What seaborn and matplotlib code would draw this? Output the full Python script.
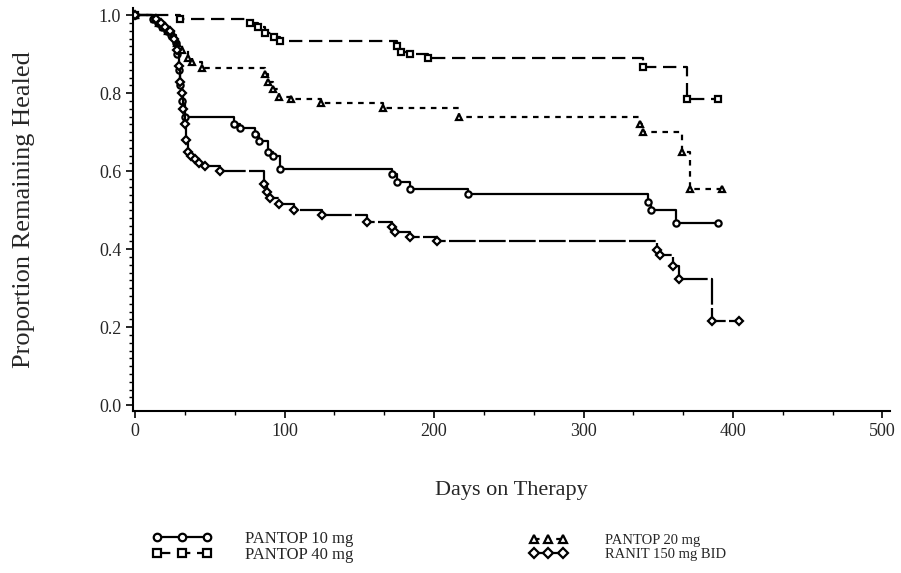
import pandas as pd
import seaborn as sns
import matplotlib.pyplot as plt
from matplotlib.ticker import MultipleLocator

# step points (days, proportion remaining healed)
p40_days = [0, 30, 77, 82, 87, 93, 97, 175, 178, 184, 196, 340, 369, 390]
p40_vals = [1.0, 0.99, 0.98, 0.97, 0.955, 0.945, 0.935, 0.92, 0.905, 0.90, 0.89, 0.868, 0.786, 0.786]

p20_days = [0, 13, 16, 19, 22, 25, 28, 31, 35, 38, 45, 87, 89, 92, 96, 104, 124, 166, 217, 338, 340, 366, 371, 393]
p20_vals = [1.0, 0.99, 0.98, 0.97, 0.96, 0.95, 0.93, 0.91, 0.89, 0.88, 0.865, 0.85, 0.83, 0.81, 0.79, 0.785,
            0.776, 0.763, 0.74, 0.72, 0.70, 0.65, 0.555, 0.555]

p10_days = [0, 12, 15, 18, 21, 24, 27, 28, 29, 30, 31, 33, 66, 70, 80, 83, 89, 92, 97, 172, 175, 184, 223,
            343, 345, 362, 390]
p10_vals = [1.0, 0.99, 0.98, 0.97, 0.96, 0.95, 0.93, 0.90, 0.86, 0.82, 0.78, 0.738, 0.72, 0.71, 0.695, 0.677,
            0.65, 0.64, 0.605, 0.593, 0.572, 0.555, 0.542, 0.52, 0.50, 0.466, 0.466]

ran_days = [0, 14, 17, 20, 23, 26, 28, 29, 30, 31, 32, 33, 34, 35, 37, 40, 43, 47, 57, 86, 88, 90, 96, 106,
            125, 155, 172, 174, 184, 202, 349, 351, 360, 364, 386, 404]
ran_vals = [1.0, 0.99, 0.98, 0.97, 0.96, 0.94, 0.91, 0.87, 0.83, 0.80, 0.76, 0.72, 0.68, 0.65, 0.64, 0.63,
            0.62, 0.613, 0.60, 0.567, 0.547, 0.53, 0.517, 0.50, 0.488, 0.47, 0.458, 0.445, 0.43, 0.42,
            0.397, 0.385, 0.356, 0.323, 0.216, 0.216]

sns.set_style("ticks")
plt.rcParams['font.family'] = ['Liberation Serif', 'DejaVu Serif']

fig = plt.figure(figsize=(9.01, 5.73), dpi=100)
ax = fig.add_axes([0.1476, 0.2827, 0.840, 0.703])

common = dict(color="black", drawstyle="steps-post", linewidth=1.6,
              markersize=4.5, markerfacecolor="white", markeredgecolor="black", markeredgewidth=1.6, ax=ax)

# draw each group
l10 = sns.lineplot(x=p10_days, y=p10_vals, marker="o", linestyle="-", **common).lines[-1]
l40 = sns.lineplot(x=p40_days, y=p40_vals, marker="s", dashes=(6, 3), **common).lines[-1]
l20 = sns.lineplot(x=p20_days, y=p20_vals, marker="^", dashes=(2.5, 2.5), **common).lines[-1]
lran = sns.lineplot(x=ran_days, y=ran_vals, marker="D", dashes=(12, 1.5), **common).lines[-1]

ax.set_xlim(-1.5, 505)
ax.set_ylim(-0.015, 1.018)
ax.xaxis.set_major_locator(MultipleLocator(100))
ax.xaxis.set_minor_locator(MultipleLocator(100 / 3))
ax.yaxis.set_major_locator(MultipleLocator(0.2))
ax.yaxis.set_minor_locator(MultipleLocator(0.02))
ax.yaxis.set_major_formatter(plt.FuncFormatter(lambda v, p: f"{v:.1f}"))
ax.tick_params(which="major", length=5, width=1.2, labelsize=13, color="black")
ax.tick_params(which="minor", length=3, width=1.0, color="black")
for s in ["left", "bottom"]:
    ax.spines[s].set_linewidth(1.5)
    ax.spines[s].set_color("black")
sns.despine(ax=ax)

ax.set_xlabel("Days on Therapy", fontsize=16, labelpad=30)
ax.set_ylabel("Proportion Remaining Healed", fontsize=19, labelpad=46)

# two separate legends, like the original footer
fig.legend([l10, l40], ["PANTOP 10 mg", "PANTOP 40 mg"], loc="center left",
           bbox_to_anchor=(0.152, 0.045), frameon=False, fontsize=12, numpoints=3,
           handlelength=3.6, handletextpad=2.0, labelspacing=0.0, markerscale=1.2)
fig.legend([l20, lran], ["PANTOP 20 mg", "RANIT 150 mg BID"], loc="center left",
           bbox_to_anchor=(0.573, 0.045), frameon=False, fontsize=10.5, numpoints=3,
           handlelength=2.6, handletextpad=2.6, labelspacing=0.05, markerscale=1.2)

fig.savefig("out.png", dpi=100)
